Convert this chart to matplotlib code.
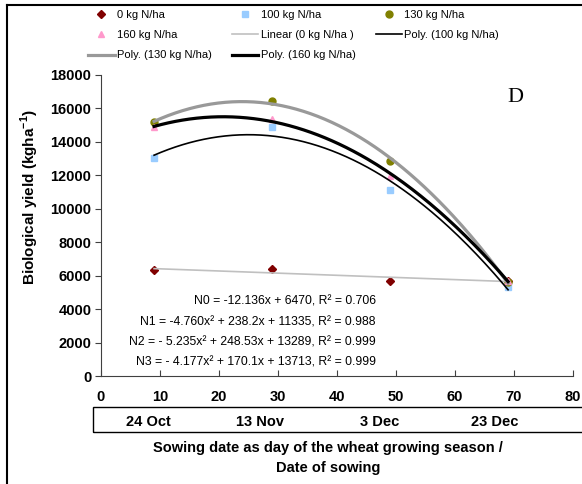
import numpy as np
import matplotlib.pyplot as plt
from matplotlib.lines import Line2D
from matplotlib.patches import Rectangle

plt.rcParams['font.family'] = ['Liberation Sans', 'DejaVu Sans']
plt.rcParams['mathtext.fontset'] = 'custom'
plt.rcParams['mathtext.rm'] = 'Liberation Sans'
plt.rcParams['mathtext.bf'] = 'Liberation Sans:bold'

# dados
dias = [9, 29, 49, 69]
n0 = [6320, 6420, 5700, 5700]
n100 = [13020, 14900, 11120, 5340]
n130 = [15170, 16430, 12880, 5600]
n160 = [14870, 15370, 11960, 5700]

datas = ['24 Oct', '13 Nov', '3 Dec', '23 Dec']
pos_datas = [8, 27, 47.3, 66.8]

equacoes = ['N0 = -12.136x + 6470, R² = 0.706',
            'N1 = -4.760x² + 238.2x + 11335, R² = 0.988',
            'N2 = - 5.235x² + 248.53x + 13289, R² = 0.999',
            'N3 = - 4.177x² + 170.1x + 13713, R² = 0.999']
y_equacoes = [4440, 3210, 1990, 795]

fig = plt.figure(figsize=(5.82, 4.84), dpi=100)
ax = fig.add_axes([0.1735, 0.2231, 0.811, 0.622])

# pontos
p0, = ax.plot(dias, n0, 'D', color='#800000', ms=4.5, ls='none', label='0 kg N/ha')
p100, = ax.plot(dias, n100, 's', color='#99CCFF', ms=5, ls='none', label='100 kg N/ha')
p130, = ax.plot(dias, n130, 'o', color='#808000', ms=5, ls='none', label='130 kg N/ha')
p160, = ax.plot(dias, n160, '^', color='#FF99CC', ms=5, ls='none', label='160 kg N/ha')

# linhas de tendencia
xx = np.linspace(9, 69, 200)
l0, = ax.plot(xx, np.polyval(np.polyfit(dias, n0, 1), xx), color='#C0C0C0', lw=1.2,
              label='Linear (0 kg N/ha )')
l100, = ax.plot(xx, np.polyval(np.polyfit(dias, n100, 2), xx), color='black', lw=1.2,
                label='Poly. (100 kg N/ha)')
l130, = ax.plot(xx, np.polyval(np.polyfit(dias, n130, 2), xx), color='#999999', lw=2.3,
                label='Poly. (130 kg N/ha)')
l160, = ax.plot(xx, np.polyval(np.polyfit(dias, n160, 2), xx), color='black', lw=2.3,
                label='Poly. (160 kg N/ha)')

ax.set_xlim(0, 80)
ax.set_ylim(0, 18000)
ax.set_xticks(range(0, 81, 10))
ax.set_yticks(range(0, 18001, 2000))
for s in ['top', 'right']:
    ax.spines[s].set_visible(False)
for s in ['left', 'bottom']:
    ax.spines[s].set_color('#404040')
ax.tick_params(axis='x', direction='in', length=4, pad=10, labelsize=10.5, color='#404040')
ax.tick_params(axis='y', direction='out', length=4, pad=3, labelsize=10.5, color='#404040')
for t in ax.get_xticklabels() + ax.get_yticklabels():
    t.set_fontweight('bold')

ax.set_ylabel(r'Biological yield (kgha$^{\mathbf{-1}}$)', fontsize=11, fontweight='bold')
ax.yaxis.set_label_coords(-0.128, 0.595)

for eq, ye in zip(equacoes, y_equacoes):
    ax.text(46.6, ye, eq, ha='right', va='center', fontsize=8.8)

ax.text(70.3, 16650, 'D', family='Liberation Serif', fontsize=16, ha='center', va='center')

# caixa das datas
caixa = Rectangle((93 / 582, 1 - 432 / 484), 0.9, 25 / 484, transform=fig.transFigure,
                  fill=False, edgecolor='black', lw=1)
fig.patches.append(caixa)
for d, xd in zip(datas, pos_datas):
    ax.text(xd, -0.148, d, transform=ax.get_xaxis_transform(), ha='center',
            va='center_baseline', fontsize=10.5, fontweight='bold')

fig.text(328 / 582, 1 - 448 / 484, 'Sowing date as day of the wheat growing season /',
         ha='center', va='center', fontsize=10.5, fontweight='bold')
fig.text(328 / 582, 1 - 468 / 484, 'Date of sowing', ha='center', va='center',
         fontsize=10.5, fontweight='bold')

# borda da figura
fig.add_artist(Line2D([7 / 582, 7 / 582], [0, 1 - 5 / 484], transform=fig.transFigure,
                      color='black', lw=1.5))
fig.add_artist(Line2D([7 / 582, 1], [1 - 5 / 484, 1 - 5 / 484], transform=fig.transFigure,
                      color='black', lw=1.5))

handles = [p0, p160, l130, p100, l0, l160, p130, l100]
fig.legend(handles=handles, labels=[h.get_label() for h in handles], ncol=3,
           loc='upper left', bbox_to_anchor=(88 / 582, 1 - 10 / 484), frameon=False,
           fontsize=8, handlelength=2.4, handletextpad=0.2, columnspacing=1.8,
           labelspacing=0.92, borderaxespad=0, borderpad=0)

fig.savefig('out.png', dpi=100)
